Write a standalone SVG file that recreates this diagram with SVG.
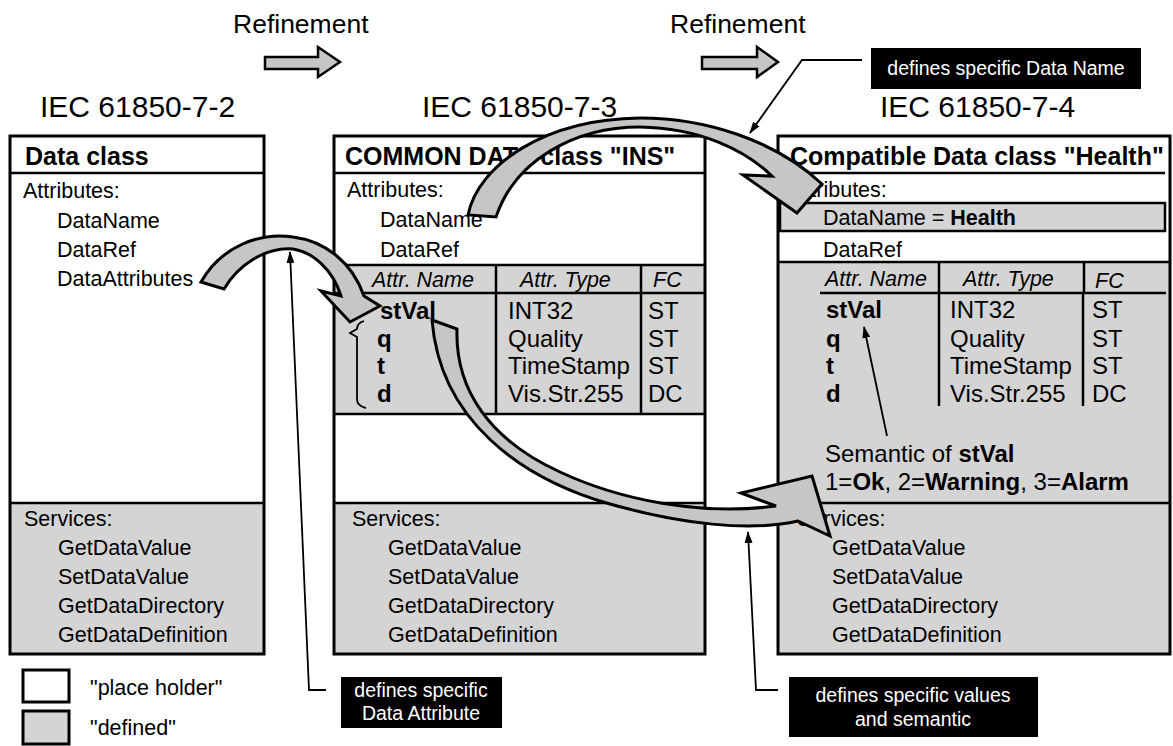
<svg xmlns="http://www.w3.org/2000/svg" width="1173" height="746" viewBox="0 0 1173 746">
<style>
text { font-family: "Liberation Sans", Arial, sans-serif; fill: #000; }
.t { font-size: 21.5px; }
.r { font-size: 24px; }
.it { font-size: 21.5px; font-style: italic; }
.h { font-size: 25px; font-weight: bold; }
.std { font-size: 30px; }
.ref { font-size: 26.5px; }
.b { font-weight: bold; }
.wt { fill: #fff; font-size: 19.5px; }
.bg { fill: #fff; }
.gray { fill: #d4d4d4; }
.frame { fill: none; stroke: #000; stroke-width: 3; }
.ln { stroke: #000; stroke-width: 2.5; fill: none; }
.thin { stroke: #000; stroke-width: 1.8; fill: none; }
.arr { fill: #c6c6c6; stroke: #000; stroke-width: 3; stroke-linejoin: miter; }
.blk { fill: #000; }
</style>
<defs>
<marker id="ah" viewBox="0 0 12 8" refX="11" refY="4" markerWidth="12" markerHeight="8" markerUnits="userSpaceOnUse" orient="auto">
<path d="M0,0 L12,4 L0,8 Z" fill="#000"/>
</marker>
</defs>
<rect width="1173" height="746" fill="#fff"/>

<g id="titles">
<text class="ref" x="233" y="33">Refinement</text>
<polygon class="arr" style="stroke-width:2.5" points="265,57 318,57 318,47 340,62 318,77 318,69 265,69"/>
<text class="ref" x="670" y="33">Refinement</text>
<polygon class="arr" style="stroke-width:2.5" points="702,57 757,57 757,47 778,62 757,77 757,69 702,69"/>
<text class="std" x="40" y="117">IEC 61850-7-2</text>
<text class="std" x="422" y="117">IEC 61850-7-3</text>
<text class="std" x="880" y="117">IEC 61850-7-4</text>
</g>

<g id="box-data-class">
<rect class="bg" x="10" y="136" width="254" height="518"/>
<rect class="gray" x="10" y="503" width="254" height="151"/>
<line class="ln" x1="10" y1="173" x2="264" y2="173"/>
<line class="ln" x1="10" y1="503" x2="264" y2="503"/>
<rect class="frame" x="10" y="136" width="254" height="518"/>
<text class="h" x="25" y="165">Data class</text>
<text class="t" x="23" y="198">Attributes:</text>
<text class="t" x="57" y="228">DataName</text>
<text class="t" x="57" y="257">DataRef</text>
<text class="t" x="57" y="286">DataAttributes</text>
<text class="t" x="24" y="526">Services:</text>
<text class="t" x="58" y="555">GetDataValue</text>
<text class="t" x="58" y="584">SetDataValue</text>
<text class="t" x="58" y="613">GetDataDirectory</text>
<text class="t" x="58" y="642">GetDataDefinition</text>
</g>

<g id="box-common-data-class">
<rect class="bg" x="334" y="136" width="371" height="518"/>
<rect class="gray" x="334" y="265" width="371" height="149"/>
<rect class="gray" x="334" y="503" width="371" height="151"/>
<line class="ln" x1="334" y1="173" x2="705" y2="173"/>
<line class="ln" x1="334" y1="265" x2="705" y2="265"/>
<line class="ln" x1="334" y1="293" x2="705" y2="293"/>
<line class="ln" x1="334" y1="414" x2="705" y2="414"/>
<line class="ln" x1="334" y1="503" x2="705" y2="503"/>
<line class="ln" x1="496" y1="265" x2="496" y2="414"/>
<line class="ln" x1="641" y1="265" x2="641" y2="414"/>
<rect class="frame" x="334" y="136" width="371" height="518"/>
<text class="h" x="345" y="165">COMMON DATA class "INS"</text>
<text class="t" x="347" y="197">Attributes:</text>
<text class="t" x="380" y="227">DataName</text>
<text class="t" x="380" y="257">DataRef</text>
<text class="it" x="372" y="287">Attr. Name</text>
<text class="it" x="520" y="287">Attr. Type</text>
<text class="it" x="653" y="287">FC</text>
<text class="r b" x="380" y="319">stVal</text>
<text class="r b" x="377" y="347">q</text>
<text class="r b" x="377" y="374">t</text>
<text class="r b" x="377" y="402">d</text>
<text class="r" x="508" y="319">INT32</text>
<text class="r" x="508" y="347">Quality</text>
<text class="r" x="508" y="374">TimeStamp</text>
<text class="r" x="508" y="402">Vis.Str.255</text>
<text class="r" x="648" y="319">ST</text>
<text class="r" x="648" y="347">ST</text>
<text class="r" x="648" y="374">ST</text>
<text class="r" x="648" y="402">DC</text>
<path class="thin" d="M364 321 Q357 323 357 329 L350 333 L357 337 L357 399 Q357 406 366 408"/>
<text class="t" x="352" y="526">Services:</text>
<text class="t" x="388" y="555">GetDataValue</text>
<text class="t" x="388" y="584">SetDataValue</text>
<text class="t" x="388" y="613">GetDataDirectory</text>
<text class="t" x="388" y="642">GetDataDefinition</text>
</g>

<g id="box-health">
<rect class="bg" x="778" y="136" width="392" height="518"/>
<rect class="gray" x="778" y="262" width="392" height="392"/>
<line class="ln" x1="778" y1="173" x2="1165" y2="173"/>
<rect class="gray" x="780" y="203" width="385" height="28" stroke="#000" stroke-width="2.5"/>
<line class="ln" x1="778" y1="262" x2="1170" y2="262"/>
<line class="ln" x1="820" y1="293" x2="1166" y2="293"/>
<line class="ln" x1="939" y1="262" x2="939" y2="293"/>
<line class="ln" x1="1084" y1="262" x2="1084" y2="293"/>
<line class="ln" x1="939" y1="293" x2="939" y2="406"/>
<line class="ln" x1="1083" y1="293" x2="1083" y2="406"/>
<line class="ln" x1="778" y1="503" x2="1170" y2="503"/>
<rect class="frame" x="778" y="136" width="392" height="518"/>
<text class="h" x="790" y="165">Compatible Data class "Health"</text>
<text class="t" x="790" y="197">Attributes:</text>
<text class="t" x="823" y="225">DataName = <tspan class="b">Health</tspan></text>
<text class="t" x="823" y="257">DataRef</text>
<text class="it" x="825" y="286">Attr. Name</text>
<text class="it" x="963" y="286">Attr. Type</text>
<text class="it" x="1095" y="288">FC</text>
<text class="r b" x="826" y="318">stVal</text>
<text class="r b" x="826" y="347">q</text>
<text class="r b" x="826" y="374">t</text>
<text class="r b" x="826" y="402">d</text>
<text class="r" x="950" y="318">INT32</text>
<text class="r" x="950" y="347">Quality</text>
<text class="r" x="950" y="374">TimeStamp</text>
<text class="r" x="950" y="402">Vis.Str.255</text>
<text class="r" x="1092" y="318">ST</text>
<text class="r" x="1092" y="347">ST</text>
<text class="r" x="1092" y="374">ST</text>
<text class="r" x="1092" y="402">DC</text>
<line class="thin" x1="887" y1="436" x2="864" y2="327" marker-end="url(#ah)"/>
<text class="r" x="825" y="462">Semantic of <tspan class="b">stVal</tspan></text>
<text class="r" x="825" y="490">1=<tspan class="b">Ok</tspan>, 2=<tspan class="b">Warning</tspan>, 3=<tspan class="b">Alarm</tspan></text>
<text class="t" x="797" y="526">Services:</text>
<text class="t" x="832" y="555">GetDataValue</text>
<text class="t" x="832" y="584">SetDataValue</text>
<text class="t" x="832" y="613">GetDataDirectory</text>
<text class="t" x="832" y="642">GetDataDefinition</text>
</g>

<g id="legend">
<rect x="23" y="670" width="46" height="32" fill="#fff" stroke="#000" stroke-width="3"/>
<text class="t" x="90" y="695">"place holder"</text>
<rect x="23" y="711" width="46" height="33" fill="#d4d4d4" stroke="#000" stroke-width="3"/>
<text class="t" x="90" y="735">"defined"</text>
</g>

<g id="connectors">
<path id="arrow-dataattributes" class="arr" d="M201 282 C222 245 262 232 293 237 C325 241 352 262 364 296 L380 306 L350 322 L321 291 L341 296 C333 270 313 252 293 249 C265 247 238 265 224 289 Z"/>
<path id="arrow-dataname" class="arr" d="M468 215 C478 165 545 119 640 118 C705 118 775 140 822 184 L797 213 L743 175 L772 176 C745 150 700 128 640 127 C575 127 515 160 496 217 Z"/>
<path id="arrow-semantic" class="arr" d="M432 320 L457 329 C455 390 490 440 560 472 C620 500 700 516 776 506 L741 493 L812 476 L830 536 L798 521 C750 532 680 524 610 504 C520 478 440 420 432 320 Z"/>
<polyline class="thin" points="862,60 802,60 750,133" marker-end="url(#ah)"/>
<polyline class="thin" points="326,690 309,690 290,252" marker-end="url(#ah)"/>
<polyline class="thin" points="778,690 756,690 748,532" marker-end="url(#ah)"/>
</g>

<g id="label-data-name">
<rect class="blk" x="871" y="48" width="270" height="41"/>
<text class="wt" x="1006" y="75" text-anchor="middle">defines specific Data Name</text>
</g>
<g id="label-data-attribute">
<rect class="blk" x="341" y="677" width="161" height="51"/>
<text class="wt" x="421" y="697" text-anchor="middle">defines specific</text>
<text class="wt" x="421" y="720" text-anchor="middle">Data Attribute</text>
</g>
<g id="label-values">
<rect class="blk" x="789" y="677" width="249" height="60"/>
<text class="wt" x="913" y="702" text-anchor="middle">defines specific values</text>
<text class="wt" x="913" y="726" text-anchor="middle">and semantic</text>
</g>
</svg>
